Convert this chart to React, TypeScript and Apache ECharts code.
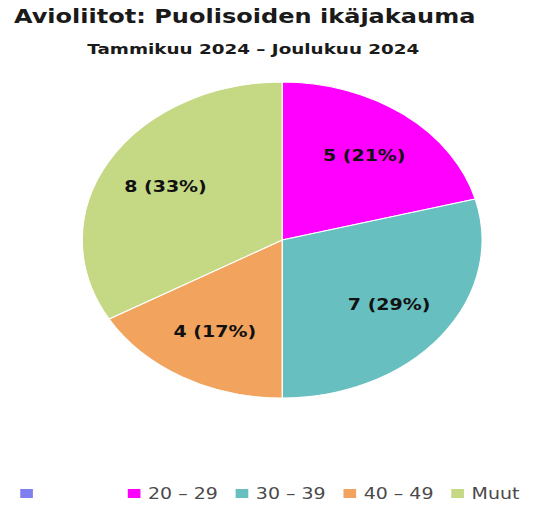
import React, { useEffect, useRef } from "react";
import * as echarts from "echarts";

const titleText = "Avioliitot: Puolisoiden ikäjakauma";
const subtitleText = "Tammikuu 2024 – Joulukuu 2024";
const categories = [" ", "20 – 29", "30 – 39", "40 – 49", "Muut"];
const values = [0, 5, 7, 4, 8];
const colors = ["#7f7fef", "#ff00ff", "#68bfbf", "#f2a35e", "#c5d884"];

const INNER_W = 422;
const STRETCH = 534 / INNER_W;

export default function App() {
  const ref = useRef<HTMLDivElement>(null);
  useEffect(() => {
    if (!ref.current) return;
    const chart = echarts.init(ref.current, null, { renderer: "svg" });
    const font = "'DejaVu Sans', Verdana, sans-serif";
    const mainData = categories.map((name, i) => ({
      name,
      value: values[i],
      itemStyle: { color: colors[i] },
    }));
    const labelData = categories.map((name, i) => ({
      name,
      value: values[i],
      itemStyle: { color: "rgba(0,0,0,0)" },
      label: values[i] === 0 ? { show: false } : undefined,
    }));
    const legendText = { fontFamily: font, fontSize: 15, color: "#4a4a4a" };
    chart.setOption({
      animation: false,
      title: [
        {
          text: titleText,
          left: 11,
          top: 7,
          padding: 0,
          textStyle: { fontFamily: font, fontSize: 19, fontWeight: "bold", color: "#1a1a1a" },
        },
        {
          text: subtitleText,
          left: 69,
          top: 42,
          padding: 0,
          textStyle: { fontFamily: font, fontSize: 14.5, fontWeight: "bold", color: "#1a1a1a" },
        },
      ],
      legend: [
        {
          data: [categories[0]],
          left: 9,
          top: 481,
          icon: "rect",
          itemWidth: 12,
          itemHeight: 11,
          textStyle: legendText,
          selectedMode: false,
        },
        {
          data: categories.slice(1),
          left: 94,
          top: 481,
          icon: "rect",
          itemWidth: 12,
          itemHeight: 11,
          itemGap: 12,
          textStyle: legendText,
          selectedMode: false,
        },
      ],
      series: [
        {
          type: "pie",
          center: [223, 240],
          radius: 158,
          startAngle: 90,
          clockwise: true,
          percentPrecision: 0,
          silent: true,
          label: { show: false },
          labelLine: { show: false },
          itemStyle: { borderColor: "#ffffff", borderWidth: 1 },
          data: mainData,
        },
        {
          type: "pie",
          center: [223, 240],
          radius: [0, 207],
          startAngle: 90,
          clockwise: true,
          percentPrecision: 0,
          silent: true,
          labelLine: { show: false },
          label: {
            show: true,
            position: "inside",
            formatter: "{c} ({d}%)",
            fontFamily: font,
            fontSize: 15,
            fontWeight: "bold",
            color: "#111",
          },
          data: labelData,
        },
      ],
    });
    return () => chart.dispose();
  }, []);
  return (
    <div style={{ position: "absolute", left: 0, top: 0, width: 534, height: 509, overflow: "hidden" }}>
      <div
        ref={ref}
        style={{ width: INNER_W, height: 509, transform: `scaleX(${STRETCH})`, transformOrigin: "0 0" }}
      />
    </div>
  );
}
